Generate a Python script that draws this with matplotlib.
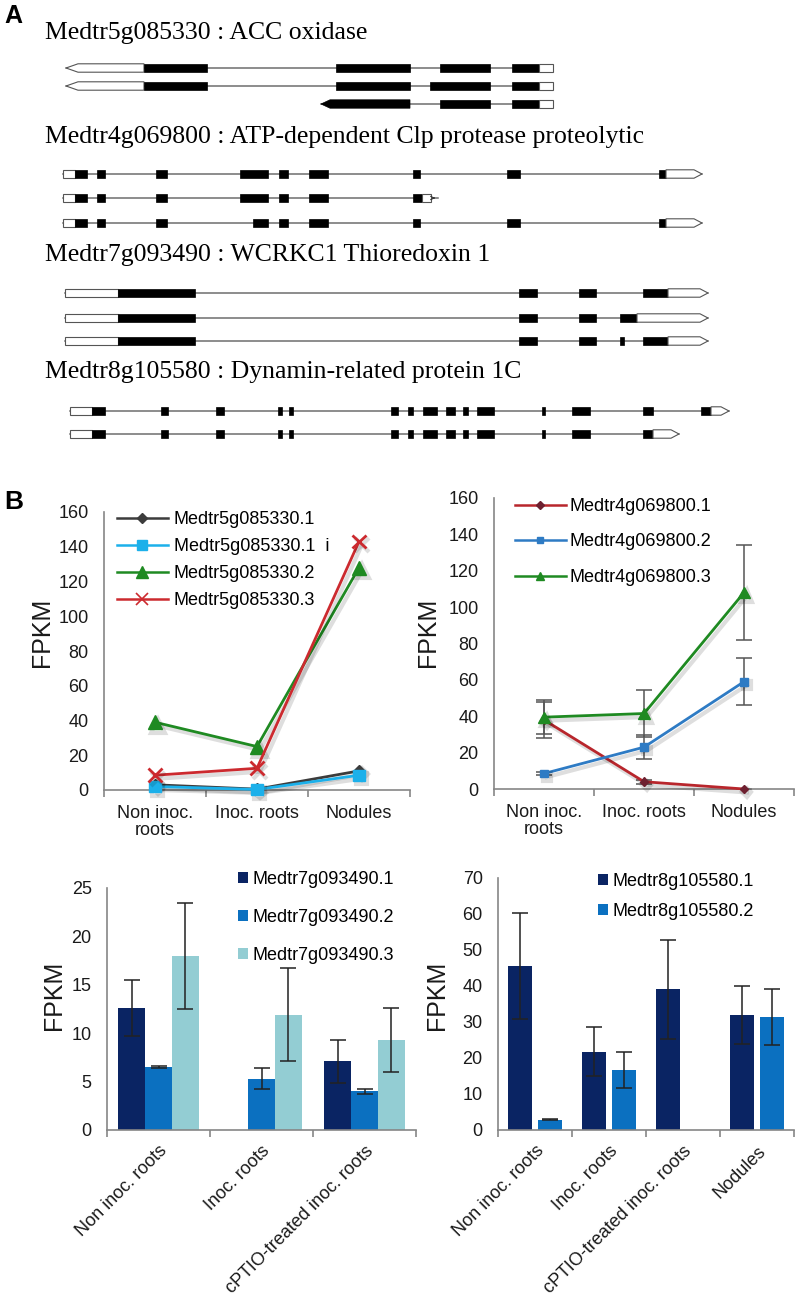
"""Recreate the two-panel figure: gene models (A) and FPKM expression plots (B)."""
import matplotlib

matplotlib.use("Agg")
import matplotlib.pyplot as plt
import matplotlib.patheffects as pe
from matplotlib.patches import Polygon, Rectangle
from matplotlib.lines import Line2D
import numpy as np

W, H = 797, 1298
plt.rcParams["font.family"] = ["Liberation Sans", "DejaVu Sans"]

# ---------------- panel A data (positions along the image width, px) ----------------
GENE_TITLES = [
    "Medtr5g085330 : ACC oxidase",
    "Medtr4g069800 : ATP-dependent Clp protease proteolytic",
    "Medtr7g093490 : WCRKC1 Thioredoxin 1",
    "Medtr8g105580 : Dynamin-related protein 1C",
]
GENE_TITLE_Y = [33, 137, 255, 372]
ROW_Y = [[68, 86, 104], [174, 198, 223], [293, 318, 341], [411, 434]]

ACC_TX = [
    [(66, 144, "utr<"), (144, 207, "cds"), (336, 410, "cds"), (440, 490, "cds"), (512, 539, "cds"), (539, 553, "utr")],
    [(66, 144, "utr<"), (144, 207, "cds"), (336, 410, "cds"), (430, 490, "cds"), (512, 539, "cds"), (539, 553, "utr")],
    [(321, 410, "cds<"), (440, 490, "cds"), (512, 539, "cds"), (539, 553, "utr")],
]
CLP_TX = [
    [(63, 75, "utr"), (75, 87, "cds"), (97, 105, "cds"), (156, 167, "cds"), (240, 268, "cds"), (279, 288, "cds"),
     (309, 328, "cds"), (413, 420, "cds"), (507, 520, "cds"), (659, 666, "cds"), (666, 702, "utr>")],
    [(63, 75, "utr"), (75, 87, "cds"), (97, 105, "cds"), (156, 167, "cds"), (240, 268, "cds"), (279, 288, "cds"),
     (309, 328, "cds"), (413, 422, "cds"), (422, 431, "utr"), (431, 438, "tail")],
    [(63, 75, "utr"), (75, 87, "cds"), (97, 105, "cds"), (156, 167, "cds"), (253, 268, "cds"), (279, 288, "cds"),
     (309, 328, "cds"), (413, 420, "cds"), (507, 520, "cds"), (659, 666, "cds"), (666, 702, "utr>")],
]
TRX_TX = [
    [(65, 118, "utr"), (118, 195, "cds"), (519, 537, "cds"), (579, 596, "cds"), (643, 668, "cds"), (668, 708, "utr>")],
    [(65, 118, "utr"), (118, 195, "cds"), (519, 537, "cds"), (579, 596, "cds"), (620, 637, "cds"), (637, 708, "utr>")],
    [(65, 118, "utr"), (118, 195, "cds"), (519, 537, "cds"), (579, 596, "cds"), (620, 624, "cds"), (643, 668, "cds"),
     (668, 708, "utr>")],
]
DRP_EXONS = [(92, 105), (161, 168), (216, 224), (278, 282), (289, 293), (391, 398), (408, 413), (423, 437),
             (446, 455), (463, 468), (477, 494), (542, 545), (572, 590), (643, 653)]
DRP_TX = [
    [(70, 92, "utr")] + [(a, b, "cds") for a, b in DRP_EXONS] + [(701, 711, "cds"), (711, 729, "utr>")],
    [(70, 92, "utr")] + [(a, b, "cds") for a, b in DRP_EXONS] + [(653, 679, "utr>")],
]
GENES = [ACC_TX, CLP_TX, TRX_TX, DRP_TX]

# ---------------- panel B data ----------------
CAT3 = ["Non inoc.\nroots", "Inoc. roots", "Nodules"]
CAT4 = ["Non inoc. roots", "Inoc. roots", "cPTIO-treated inoc. roots", "Nodules"]

ACC_NAMES = ["Medtr5g085330.1", "Medtr5g085330.1  i", "Medtr5g085330.2", "Medtr5g085330.3"]
ACC_1 = [3, 0.5, 11]
ACC_1I = [2, 0.3, 8.5]
ACC_2 = [39, 25, 128]
ACC_3 = [8.5, 12.5, 143]

CLP_NAMES = ["Medtr4g069800.1", "Medtr4g069800.2", "Medtr4g069800.3"]
CLP_1 = [38, 4, 0]
CLP_1_ERR = [10, 1, 0]
CLP_2 = [8.5, 23, 59]
CLP_2_ERR = [1, 6.5, 13]
CLP_3 = [39.5, 41.5, 108]
CLP_3_ERR = [9.5, 12.8, 26]

TRX_NAMES = ["Medtr7g093490.1", "Medtr7g093490.2", "Medtr7g093490.3"]
TRX_1 = [12.6, 0, 7.1]
TRX_1_ERR = [2.9, 0, 2.2]
TRX_2 = [6.5, 5.3, 4.0]
TRX_2_ERR = [0.08, 1.1, 0.25]
TRX_3 = [18.0, 11.9, 9.3]
TRX_3_ERR = [5.5, 4.8, 3.3]

DRP_NAMES = ["Medtr8g105580.1", "Medtr8g105580.2"]
DRP_1 = [45.6, 21.8, 39.1, 31.9]
DRP_1_ERR = [14.7, 6.7, 13.7, 8.0]
DRP_2 = [2.9, 16.7, 0, 31.5]
DRP_2_ERR = [0.2, 5.0, 0, 7.8]

NAVY, MID, LIGHT = "#0a2463", "#0b70c0", "#93cdd3"
AXIS_GREY = "#868686"
TXT = "#1a1a1a"
FS = 13


def rect(l, t, r, b):
    return [l / W, 1 - b / H, (r - l) / W, (b - t) / H]


def draw_transcript(ax, y, segs, h=4.2, tip=8):
    x0, x1 = segs[0][0], segs[-1][1]
    ax.plot([x0, x1], [y, y], color="#6e6e6e", lw=1.1, zorder=1)
    for a, b, kind in segs:
        if kind == "cds":
            ax.add_patch(Rectangle((a, y - h), b - a, 2 * h, fc="black", ec="black", lw=0.5, zorder=2))
        elif kind == "utr":
            ax.add_patch(Rectangle((a, y - h), b - a, 2 * h, fc="white", ec="#555555", lw=0.8, zorder=2))
        elif kind == "utr>":
            pts = [(a, y - h), (b - tip, y - h), (b, y), (b - tip, y + h), (a, y + h)]
            ax.add_patch(Polygon(pts, closed=True, fc="white", ec="#555555", lw=0.8, zorder=2))
        elif kind == "utr<":
            pts = [(b, y - h), (a + 12, y - h), (a, y), (a + 12, y + h), (b, y + h)]
            ax.add_patch(Polygon(pts, closed=True, fc="white", ec="#555555", lw=0.8, zorder=2))
        elif kind == "cds<":
            pts = [(b, y - h), (a + 9, y - h), (a, y), (a + 9, y + h), (b, y + h)]
            ax.add_patch(Polygon(pts, closed=True, fc="black", ec="black", lw=0.5, zorder=2))
        elif kind == "tail":
            ax.annotate("", xy=(b, y), xytext=(a, y),
                        arrowprops=dict(arrowstyle="->", lw=0.8, color="#333333", mutation_scale=6))


def style_axes(ax, n, ymax, ystep, xpad=9):
    ax.set_xlim(-0.5, n - 0.5)
    ax.set_ylim(0, ymax)
    ax.set_yticks(np.arange(0, ymax + 0.1, ystep))
    for s in ("top", "right"):
        ax.spines[s].set_visible(False)
    for s in ("left", "bottom"):
        ax.spines[s].set_color(AXIS_GREY)
        ax.spines[s].set_linewidth(1.2)
    ax.set_xticks(np.arange(-0.5, n), minor=True)
    ax.tick_params(axis="x", which="minor", length=5, width=1.2, color=AXIS_GREY, direction="out")
    ax.tick_params(axis="x", which="major", length=0, pad=xpad, labelsize=FS, labelcolor=TXT)
    ax.tick_params(axis="y", length=0, pad=11, labelsize=FS, labelcolor=TXT)
    ax.patch.set_alpha(0)


def legend_at(ax, handles, labels, x, y, **kw):
    return ax.legend(handles, labels, loc="upper left", bbox_to_anchor=(x / W, 1 - y / H),
                     bbox_transform=ax.figure.transFigure, frameon=False, borderpad=0,
                     borderaxespad=0, fontsize=FS, **kw)


SHADOW = [pe.SimpleLineShadow(offset=(2, -2.5), shadow_color="k", alpha=0.13, linewidth=3), pe.Normal()]


def main():
    fig = plt.figure(figsize=(W / 100, H / 100), dpi=100)

    # ---- panel A ----
    axA = fig.add_axes(rect(0, 0, W, 460))
    axA.set_xlim(0, W)
    axA.set_ylim(460, 0)
    axA.axis("off")
    for title, ty, rows, tx in zip(GENE_TITLES, GENE_TITLE_Y, ROW_Y, GENES):
        axA.text(45, ty, title, family=["Liberation Serif", "DejaVu Serif"], fontsize=18.5,
                 va="center", ha="left", color="black")
        for y, segs in zip(rows, tx):
            draw_transcript(axA, y, segs)
    fig.text(4 / W, 1 - 16 / H, "A", fontsize=18, fontweight="bold", va="center", ha="left")
    fig.text(4 / W, 1 - 502 / H, "B", fontsize=19, fontweight="bold", va="center", ha="left")

    x3 = np.arange(3)
    x4 = np.arange(4)

    # ---- B1: ACC oxidase lines ----
    ax1 = fig.add_axes(rect(104, 512, 410, 790))
    style_axes(ax1, 3, 160, 20, xpad=11)
    ax1.set_xticks(x3, CAT3)
    for t in ax1.get_xticklabels():
        t.set_linespacing(1.0)
    specs = [
        (ACC_1, "#3c3c3c", "D", 6, "#3c3c3c"),
        (ACC_1I, "#1cb0ea", "s", 8, "#1cb0ea"),
        (ACC_2, "#1f8a22", "^", 10, "#1f8a22"),
        (ACC_3, "#cc2a2f", "x", 10, "#cc2a2f"),
    ]
    hs = []
    for vals, c, m, ms, mc in specs:
        ax1.plot(x3, vals, color=c, lw=2, marker=m, ms=ms, mfc=mc, mec=mc, mew=2 if m == "x" else 1,
                 path_effects=SHADOW, clip_on=False, zorder=3)
        hs.append(Line2D([], [], color=c, lw=1.8, marker=m, ms=ms * 0.85, mfc=mc, mec=mc,
                         mew=1.2 if m == "x" else 1))
    legend_at(ax1, hs, ACC_NAMES, 117, 511, handlelength=2.8, handletextpad=0.35, labelspacing=0.56)
    fig.text(42 / W, 1 - 632 / H, "FPKM", rotation=90, fontsize=18, ha="center", va="center", color=TXT)

    # ---- B2: Clp protease lines with error bars ----
    ax2 = fig.add_axes(rect(494, 498, 794, 789))
    style_axes(ax2, 3, 160, 20, xpad=11)
    ax2.set_xticks(x3, CAT3)
    for t in ax2.get_xticklabels():
        t.set_linespacing(1.0)
    specs2 = [
        (CLP_1, CLP_1_ERR, "#b8262c", "D", 4.5, "#6e2030"),
        (CLP_2, CLP_2_ERR, "#2e7bc4", "s", 5.5, "#2e7bc4"),
        (CLP_3, CLP_3_ERR, "#1f8a22", "^", 8, "#1f8a22"),
    ]
    hs = []
    for vals, err, c, m, ms, mc in specs2:
        ax2.errorbar(x3, vals, yerr=err, fmt="none", ecolor="#555555", elinewidth=1.1, capsize=6,
                     capthick=1.1, zorder=2)
        ax2.plot(x3, vals, color=c, lw=2, marker=m, ms=ms, mfc=mc, mec=mc, path_effects=SHADOW,
                 clip_on=False, zorder=3)
        hs.append(Line2D([], [], color=c, lw=1.8, marker=m, ms=ms * 0.8, mfc=mc, mec=mc))
    legend_at(ax2, hs, CLP_NAMES, 515, 498, handlelength=2.8, handletextpad=0.2, labelspacing=1.02)
    fig.text(428 / W, 1 - 632 / H, "FPKM", rotation=90, fontsize=18, ha="center", va="center", color=TXT)

    # ---- B3: thioredoxin bars ----
    ax3 = fig.add_axes(rect(107, 888, 416, 1130))
    style_axes(ax3, 3, 25, 5)
    bw = 0.262
    series3 = [(TRX_1, TRX_1_ERR, NAVY), (TRX_2, TRX_2_ERR, MID), (TRX_3, TRX_3_ERR, LIGHT)]
    hs = []
    for i, (vals, err, c) in enumerate(series3):
        xs = x3 + (i - 1) * bw
        hs.append(ax3.bar(xs, vals, width=bw, color=c, zorder=2))
        v = np.array(vals, float)
        keep = v > 0
        ax3.errorbar(xs[keep], v[keep], yerr=np.array(err)[keep], fmt="none", ecolor="#222222",
                     elinewidth=1.1, capsize=6, capthick=1.1, zorder=3)
    ax3.set_xticks(x3, CAT4[:3], rotation=45, ha="right", rotation_mode="anchor")
    legend_at(ax3, hs, TRX_NAMES, 238, 871, handlelength=0.55, handleheight=0.55, handletextpad=0.25,
              labelspacing=1.15)
    fig.text(54 / W, 1 - 995 / H, "FPKM", rotation=90, fontsize=18, ha="center", va="center", color=TXT)

    # ---- B4: dynamin bars ----
    ax4 = fig.add_axes(rect(498, 878, 794, 1130))
    style_axes(ax4, 4, 70, 10)
    bw = 0.33
    off = 0.205
    hs = []
    for vals, err, c, d in [(DRP_1, DRP_1_ERR, NAVY, -off), (DRP_2, DRP_2_ERR, MID, off)]:
        xs = x4 + d
        hs.append(ax4.bar(xs, vals, width=bw, color=c, zorder=2))
        v = np.array(vals, float)
        keep = v > 0
        ax4.errorbar(xs[keep], v[keep], yerr=np.array(err)[keep], fmt="none", ecolor="#222222",
                     elinewidth=1.1, capsize=6, capthick=1.1, zorder=3)
    ax4.set_xticks(x4, CAT4, rotation=45, ha="right", rotation_mode="anchor")
    legend_at(ax4, hs, DRP_NAMES, 598, 873, handlelength=0.55, handleheight=0.55, handletextpad=0.25,
              labelspacing=0.72)
    fig.text(437 / W, 1 - 995 / H, "FPKM", rotation=90, fontsize=18, ha="center", va="center", color=TXT)

    fig.savefig("out.png", dpi=100, facecolor="white")


if __name__ == "__main__":
    main()
